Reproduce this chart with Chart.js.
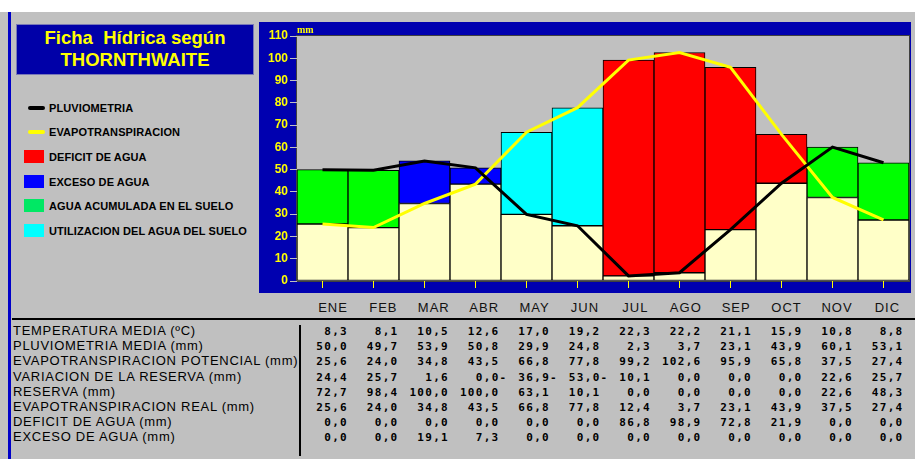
<!DOCTYPE html>
<html>
<head>
<meta charset="utf-8">
<script src="https://cdn.jsdelivr.net/npm/chart.js@4"></script>
<style>
  body { margin: 0; width: 915px; height: 459px; overflow: hidden; background: #c0c0c0; position: relative; font-family: Arial, "Liberation Sans", sans-serif; }
  .abs { position: absolute; }
  #strip { left: 0; top: 0; width: 915px; height: 12px; background: #fff; }
  #edge { left: 8px; top: 12px; width: 3px; height: 447px; background: #0000c8; }
  #title { left: 16px; top: 24px; width: 236px; height: 47px; background: #0000a8; border: 1px solid #7878b8;
           color: #ffff00; font-weight: bold; font-size: 18.5px; text-align: center; line-height: 22px; padding-top: 2px; }
  .leg { left: 49px; font-weight: bold; font-size: 11px; color: #000; letter-spacing: 0.1px; line-height: 14px; white-space: nowrap; }
  .sw { left: 24px; width: 20px; height: 13px; }
  .ln { left: 28px; width: 17px; height: 4px; border-radius: 2px; }
  #chartbox { left: 259px; top: 22px; width: 652px; height: 271px; }
  .mon { width: 50px; text-align: center; top: 300px; font-size: 13px; letter-spacing: 1px; color: #111; }
  #hline { left: 12px; top: 318px; width: 903px; height: 2px; background: #000; }
  #vline { left: 299px; top: 325px; width: 2px; height: 131px; background: #000; }
  .rl { left: 13px; font-size: 13px; letter-spacing: 0.72px; color: #000; white-space: nowrap; }
  .num { width: 60px; text-align: right; font-family: "DejaVu Sans Mono", monospace; font-weight: bold; font-size: 11px; letter-spacing: 1.3px; color: #000; white-space: nowrap; }
</style>
</head>
<body>
<div id="strip" class="abs"></div>
<div id="edge" class="abs"></div>
<div id="title" class="abs">Ficha&nbsp; Hídrica según<br>THORNTHWAITE</div>
<div id="legend"></div>
<div id="chartbox" class="abs"><canvas id="balance" width="652" height="271"></canvas></div>
<div id="months"></div>
<div id="hline" class="abs"></div>
<div id="vline" class="abs"></div>
<div id="table"></div>
<script>
const months = ['ENE', 'FEB', 'MAR', 'ABR', 'MAY', 'JUN', 'JUL', 'AGO', 'SEP', 'OCT', 'NOV', 'DIC'];
const temperatura = [8.3, 8.1, 10.5, 12.6, 17.0, 19.2, 22.3, 22.2, 21.1, 15.9, 10.8, 8.8];
const pluviometria = [50.0, 49.7, 53.9, 50.8, 29.9, 24.8, 2.3, 3.7, 23.1, 43.9, 60.1, 53.1];
const etp = [25.6, 24.0, 34.8, 43.5, 66.8, 77.8, 99.2, 102.6, 95.9, 65.8, 37.5, 27.4];
const variacion = ['24,4', '25,7', '1,6', '0,0-', '36,9-', '53,0-', '10,1', '0,0', '0,0', '0,0', '22,6', '25,7'];
const reserva = [72.7, 98.4, 100.0, 100.0, 63.1, 10.1, 0.0, 0.0, 0.0, 0.0, 22.6, 48.3];
const etr = [25.6, 24.0, 34.8, 43.5, 66.8, 77.8, 12.4, 3.7, 23.1, 43.9, 37.5, 27.4];
const deficit = [0.0, 0.0, 0.0, 0.0, 0.0, 0.0, 86.8, 98.9, 72.8, 21.9, 0.0, 0.0];
const exceso = [0.0, 0.0, 19.1, 7.3, 0.0, 0.0, 0.0, 0.0, 0.0, 0.0, 0.0, 0.0];
// which water state colours the top of each month's bar
const barKind = ['acum', 'acum', 'exceso', 'exceso', 'util', 'util', 'deficit', 'deficit', 'deficit', 'deficit', 'acum', 'acum'];

const rowLabels = ['TEMPERATURA MEDIA  (ºC)', 'PLUVIOMETRIA MEDIA  (mm)', 'EVAPOTRANSPIRACION POTENCIAL  (mm)',
  'VARIACION DE LA RESERVA  (mm)', 'RESERVA  (mm)', 'EVAPOTRANSPIRACION REAL  (mm)', 'DEFICIT DE AGUA  (mm)', 'EXCESO DE AGUA  (mm)'];

const kinds = [
  { key: 'deficit', label: 'DEFICIT DE AGUA', color: '#ff0000', legend: '#ff0000' },
  { key: 'exceso', label: 'EXCESO DE AGUA', color: '#0000ff', legend: '#0000ff' },
  { key: 'acum', label: 'AGUA ACUMULADA EN EL SUELO', color: '#00ff00', legend: '#00e864' },
  { key: 'util', label: 'UTILIZACION DEL AGUA DEL SUELO', color: '#00ffff', legend: '#00ffff' }
];

const fmt = v => typeof v === 'string' ? v : v.toFixed(1).replace('.', ',');

// legend (left side)
let leg = '';
leg += '<div class="abs ln" style="top:106px;background:#000"></div><div class="abs leg" style="top:101px">PLUVIOMETRIA</div>';
leg += '<div class="abs ln" style="top:130px;background:#ffff00"></div><div class="abs leg" style="top:125px">EVAPOTRANSPIRACION</div>';
kinds.forEach((k, i) => {
  const y = 150 + i * 24.5;
  leg += `<div class="abs sw" style="top:${y}px;background:${k.legend}"></div>`;
  leg += `<div class="abs leg" style="top:${y}px">${k.label}</div>`;
});
document.getElementById('legend').innerHTML = leg;

// month header and table
let mh = '';
months.forEach((m, i) => { mh += `<div class="abs mon" style="left:${308 + i * 50.4}px">${m}</div>`; });
document.getElementById('months').innerHTML = mh;

const rows = [temperatura, pluviometria, etp, variacion, reserva, etr, deficit, exceso];
let tb = '';
rows.forEach((r, ri) => {
  const y = 323 + ri * 15.2;
  tb += `<div class="abs rl" style="top:${y}px">${rowLabels[ri]}</div>`;
  r.forEach((v, ci) => {
    let s = fmt(v);
    let extra = '';
    if (s.endsWith('-')) { s = s.slice(0, -1); extra = '<span style="margin-right:-8px">-</span>'; }
    tb += `<div class="abs num" style="top:${y + 2}px;left:${288 + ci * 50.5}px">${s}${extra}</div>`;
  });
});
document.getElementById('table').innerHTML = tb;

// bar segments: base up to min(P, ETP), then the difference coloured by state
const base = pluviometria.map((p, i) => Math.min(p, etp[i]));
const diff = pluviometria.map((p, i) => Math.abs(p - etp[i]));

const panelBg = {
  id: 'panelBg',
  beforeDraw(chart) {
    const { ctx, chartArea: a } = chart;
    ctx.save();
    ctx.fillStyle = '#0000b0';
    ctx.fillRect(0, 0, chart.width, chart.height);
    ctx.fillStyle = '#c0c0c0';
    ctx.fillRect(a.left, a.top, a.right - a.left, a.bottom - a.top);
    ctx.strokeStyle = '#404040';
    ctx.lineWidth = 1;
    ctx.strokeRect(a.left - 0.5, a.top - 0.5, a.right - a.left + 1, a.bottom - a.top + 1);
    ctx.fillStyle = '#ffff00';
    ctx.font = 'bold 10px "Liberation Serif", serif';
    ctx.textBaseline = 'alphabetic';
    ctx.fillText('mm', a.left, a.top - 3);
    ctx.restore();
  }
};

const datasets = [
  { type: 'line', label: 'PLUVIOMETRIA', data: pluviometria, borderColor: '#000', borderWidth: 3, pointRadius: 0, stack: 'p', order: 0 },
  { type: 'line', label: 'EVAPOTRANSPIRACION', data: etp, borderColor: '#ffff00', borderWidth: 3, pointRadius: 0, stack: 'etp', order: 0 },
  { type: 'bar', label: 'base', data: base, backgroundColor: '#ffffc8', stack: 'bar', order: 1 }
];
kinds.forEach(k => {
  datasets.push({
    type: 'bar', label: k.label, stack: 'bar', order: 1, backgroundColor: k.color,
    data: diff.map((d, i) => barKind[i] === k.key ? d : null)
  });
});
datasets.forEach(d => {
  if (d.type === 'bar') {
    d.borderColor = '#000';
    d.borderWidth = 1;
    d.borderSkipped = false;
    d.barPercentage = 1;
    d.categoryPercentage = 1;
  }
});

new Chart(document.getElementById('balance'), {
  data: { labels: months, datasets: datasets },
  plugins: [panelBg],
  options: {
    responsive: false,
    animation: false,
    devicePixelRatio: 1,
    layout: { padding: { top: 14, right: 2, left: 0, bottom: 0 } },
    plugins: { legend: { display: false }, tooltip: { enabled: false } },
    scales: {
      x: {
        stacked: true,
        grid: { display: true, drawOnChartArea: false, offset: false, tickLength: 7, color: '#ffff00' },
        border: { display: false },
        ticks: { display: false },
        afterFit(s) { s.height = 12; }
      },
      y: {
        stacked: true,
        min: 0,
        max: 110,
        ticks: { stepSize: 10, color: '#ffff00', padding: 2, font: { family: 'Arial', size: 12, weight: 'bold' } },
        grid: { drawOnChartArea: false, tickLength: 7, color: '#c0c0c0' },
        border: { display: false },
        afterFit(s) { s.width = 38; }
      }
    }
  }
});
</script>
</body>
</html>
